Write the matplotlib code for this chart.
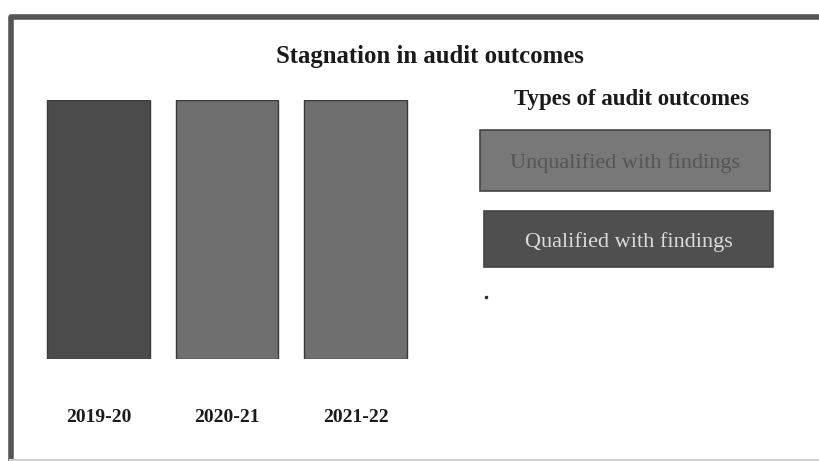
import matplotlib
matplotlib.use('Agg')
from matplotlib import pyplot as plt
from matplotlib.patches import Rectangle

# data
years = ['2019-20', '2020-21', '2021-22']
outcome = [1.0, 1.0, 1.0]          # same height every year -> stagnation
bar_colors = ['#4b4b4b', '#6f6f6f', '#6f6f6f']
legend_names = ['Unqualified with findings', 'Qualified with findings']
legend_colors = ['#787878', '#4f4f4f']
legend_text_colors = ['#555555', '#dcdcdc']

W, H = 819, 461
plt.rcParams['font.family'] = ['Liberation Serif', 'DejaVu Serif']

fig = plt.figure(figsize=(W/100, H/100), dpi=100)

# overlay in pixel coords for frame, titles, legend boxes
ov = fig.add_axes([0, 0, 1, 1])
ov.set_xlim(0, W)
ov.set_ylim(H, 0)
ov.axis('off')

ov.plot([10.5, 10.5, W], [H, 17, 17], color='#555555', lw=4, solid_capstyle='butt')
ov.plot([10, W], [459.5, 459.5], color='#cfcfcf', lw=1.5)

ov.text(430, 56, 'Stagnation in audit outcomes', ha='center', va='center',
        fontsize=17.8, fontweight='bold', color='#1a1a1a')
ov.text(632, 99, 'Types of audit outcomes', ha='center', va='center',
        fontsize=16.5, fontweight='bold', color='#1a1a1a')

boxes = [(480, 130, 290, 61), (484, 211, 289, 56)]
for (x, y, w, h), name, c, tc in zip(boxes, legend_names, legend_colors, legend_text_colors):
    ov.add_patch(Rectangle((x, y), w, h, facecolor=c, edgecolor='#444444', lw=1.2))
    ov.text(x + w/2, y + h/2 + 3, name, ha='center', va='center', fontsize=16, color=tc)

ov.plot([486], [297], marker='s', ms=2, color='#333333')

# bar axes
left_px, right_px = 34.25, 419.75
bot_px, top_px = 359, 100
ax = fig.add_axes([left_px/W, (H-bot_px)/H, (right_px-left_px)/W, (bot_px-top_px)/H])
ax.bar(range(len(years)), outcome, width=0.8, color=bar_colors,
       edgecolor='#3a3a3a', linewidth=1)
ax.set_xlim(-0.5, 2.5)
ax.set_ylim(0, 1.0)
ax.set_xticks(range(len(years)))
ax.set_xticklabels(years, fontsize=14, fontweight='bold', color='#1a1a1a')
ax.tick_params(axis='x', length=0, pad=36)
ax.set_yticks([])
for s in ax.spines.values():
    s.set_visible(False)
ax.patch.set_alpha(0)

fig.savefig('out.png', dpi=100)
